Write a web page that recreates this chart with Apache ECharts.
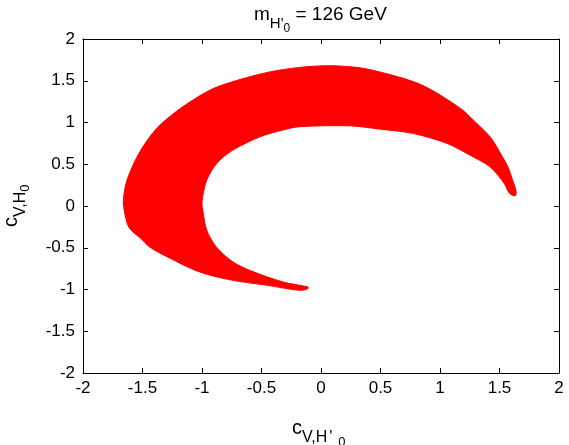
<!DOCTYPE html>
<html><head><meta charset="utf-8">
<script src="https://cdn.jsdelivr.net/npm/echarts@6/dist/echarts.min.js"></script>
<style>html,body{margin:0;padding:0;background:#fff}#c{width:569px;height:445px}</style>
</head><body><div id="c"></div>
<script>
// ---- data ----
const xTickLabels = ['-2','-1.5','-1','-0.5','0','0.5','1','1.5','2'];
const yTickLabels = ['-2','-1.5','-1','-0.5','0','0.5','1','1.5','2'];
// outer edge of the allowed region (from lower tail tip, round the left, to the right tip)
const outerEdge = [
  [-0.11,-0.99],[-0.18,-1.01],[-0.45,-0.95],[-0.74,-0.89],[-1.02,-0.79],[-1.29,-0.61],
  [-1.44,-0.49],[-1.52,-0.38],[-1.58,-0.31],[-1.62,-0.24],[-1.65,-0.08],[-1.66,0.08],
  [-1.63,0.31],[-1.53,0.63],[-1.38,0.93],
  [-1.18,1.17],[-0.93,1.39],[-0.74,1.49],[-0.45,1.60],[-0.18,1.66],[0.08,1.68],
  [0.35,1.65],[0.64,1.55],[0.83,1.46],[1.0,1.33],[1.19,1.15],[1.25,1.07],[1.42,0.83],
  [1.50,0.65],[1.57,0.47],[1.61,0.31],[1.64,0.17],[1.63,0.12]
];
// inner edge (from right tip back to the lower tail tip)
const innerEdge = [
  [1.58,0.16],[1.54,0.27],[1.42,0.47],[1.25,0.61],[1.06,0.75],[0.77,0.87],[0.50,0.92],
  [0.24,0.96],[-0.18,0.95],[-0.32,0.91],[-0.51,0.83],[-0.74,0.67],[-0.87,0.52],
  [-0.96,0.31],[-1.0,0.05],[-0.99,-0.08],[-0.96,-0.29],[-0.88,-0.49],[-0.74,-0.67],
  [-0.60,-0.77],[-0.32,-0.91],[-0.11,-0.97]
];
const titleParts = [['m',0],["H'",1],['0',2],[' = 126 GeV',0]];
const xNameParts = [['c',0],['V,H',1],["'",1],['0',2]];
const yNameParts = [['c',0],['V,H',1],['0',2]];

// ---- rendering ----
const FF = '"Liberation Sans", Arial, Helvetica, sans-serif';
const regionPts = outerEdge.concat(innerEdge);
const cv = document.createElement('canvas').getContext('2d');
function measure(t, size){ cv.font = size + 'px ' + FF; return cv.measureText(t).width; }

function richLabel(parts, sizes, dys, x, y, rotation, gaps){
  let cx = 0; const children = [];
  parts.forEach(([t, lvl], i) => {
    const s = sizes[lvl];
    children.push({type:'text', x: cx, y: dys[lvl] - 0.35*s,
      style:{text:t, font: s+'px '+FF, fill:'#000', textAlign:'left', textVerticalAlign:'middle'}});
    cx += measure(t, s) + ((gaps && gaps[i]) || 0);
  });
  return {type:'group', x:x, y:y, rotation: rotation||0, children: children};
}

const chart = echarts.init(document.getElementById('c'));
const axisCommon = {
  type:'value', min:-2, max:2, interval:0.5,
  axisLine:{show:true, onZero:false, lineStyle:{color:'#000', width:1}},
  axisTick:{show:true, inside:true, length:5, lineStyle:{color:'#000'}},
  splitLine:{show:false}
};
chart.setOption({
  animation:false,
  backgroundColor:'#fff',
  grid:{left:83, top:39, right:10, bottom:72},
  xAxis:[
    Object.assign({}, axisCommon, {position:'bottom',
      axisLabel:{margin:7, fontSize:17, color:'#000', fontFamily:FF,
        formatter:(v)=>xTickLabels[Math.round((v+2)/0.5)]}}),
    Object.assign({}, axisCommon, {position:'top', axisLabel:{show:false}})
  ],
  yAxis:[
    Object.assign({}, axisCommon, {position:'left',
      axisLabel:{margin:8, fontSize:17, color:'#000', fontFamily:FF,
        formatter:(v)=>yTickLabels[Math.round((v+2)/0.5)]}}),
    Object.assign({}, axisCommon, {position:'right', axisLabel:{show:false}})
  ],
  graphic:[
    richLabel(titleParts, [19,15,12], [0,8,12], 254, 21, 0),
    richLabel(xNameParts, [20,16,13], [0,8,12], 292, 435, 0, [0,2,6]),
    richLabel(yNameParts, [20,16,13], [0,8,12], 18, 227, Math.PI/2)
  ],
  series:[{
    type:'custom', xAxisIndex:0, yAxisIndex:0,
    data: regionPts, encode:{x:0, y:1},
    renderItem: function(params, api){
      if (params.dataIndex !== 0) return null;
      const pts = regionPts.map(p => api.coord(p));
      return {type:'polygon', shape:{points:pts, smooth:0.3}, style:{fill:'#ff0000', stroke:'#ff0000', lineWidth:1}};
    }
  }]
});
</script></body></html>
